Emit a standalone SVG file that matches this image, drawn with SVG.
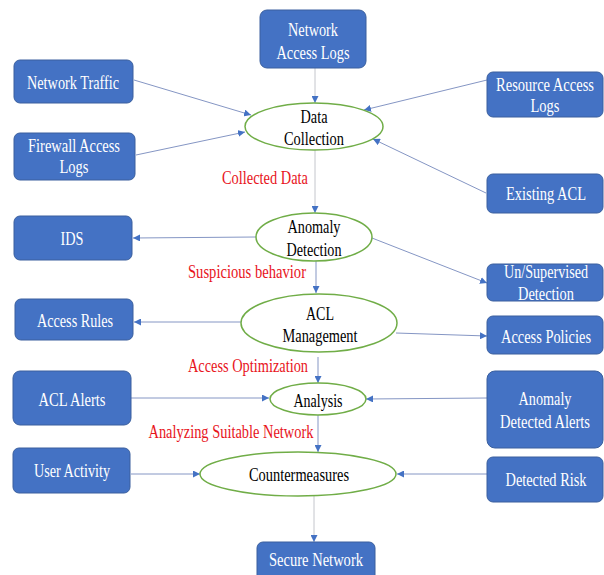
<svg xmlns="http://www.w3.org/2000/svg" width="604" height="575" viewBox="0 0 604 575">
<style>
.box{fill:#4472c4;stroke:#3a5f9e;stroke-width:1}
.ell{fill:#ffffff;stroke:#70ad47;stroke-width:1.5}
text{font-family:"Liberation Serif","Times New Roman",serif;font-size:18px;text-anchor:middle}
.w{fill:#ffffff}
.k{fill:#000000}
.r{fill:#e8141c}
.c{stroke:#8596c4;stroke-width:1;fill:none;marker-end:url(#ah)}
.g{stroke:#c4c6cc;stroke-width:1;fill:none;marker-end:url(#ah)}
</style>
<defs>
<marker id="ah" viewBox="0 0 10 10" refX="10" refY="5" markerWidth="7" markerHeight="7" markerUnits="userSpaceOnUse" orient="auto">
<path d="M0,0 L10,5 L0,10 z" fill="#4472c4"/>
</marker>
</defs>
<rect width="604" height="575" fill="#ffffff"/>
<g id="connectors">
<line class="g" x1="315" y1="68" x2="315" y2="103"/>
<line class="c" x1="134" y1="80" x2="251" y2="115"/>
<line class="c" x1="136" y1="155" x2="245" y2="132"/>
<line class="c" x1="487" y1="80" x2="364" y2="110"/>
<line class="c" x1="486" y1="193" x2="373" y2="139"/>
<line class="g" x1="315" y1="150" x2="315" y2="213"/>
<line class="c" x1="256" y1="237" x2="133" y2="238"/>
<line class="c" x1="372" y1="238" x2="487" y2="283"/>
<line class="c" x1="316" y1="261" x2="316" y2="293"/>
<line class="c" x1="241" y1="322" x2="134" y2="322"/>
<line class="c" x1="396" y1="333" x2="487" y2="336"/>
<line class="c" x1="318" y1="357" x2="318" y2="383"/>
<line class="c" x1="131" y1="398" x2="269" y2="398"/>
<line class="c" x1="487" y1="398" x2="366" y2="399"/>
<line class="c" x1="318" y1="415" x2="318" y2="452"/>
<line class="c" x1="131" y1="474" x2="200" y2="474"/>
<line class="c" x1="487" y1="474" x2="397" y2="474"/>
<line class="g" x1="314" y1="496" x2="314" y2="542"/>
</g>
<g id="network-access-logs">
<rect class="box" x="260" y="10" width="106" height="58" rx="7"/>
<text class="w" x="313" y="36" textLength="50" lengthAdjust="spacingAndGlyphs">Network</text>
<text class="w" x="313" y="59" textLength="73" lengthAdjust="spacingAndGlyphs">Access Logs</text>
</g>
<g id="network-traffic">
<rect class="box" x="14" y="60" width="119" height="43" rx="6"/>
<text class="w" x="73" y="89" textLength="92" lengthAdjust="spacingAndGlyphs">Network Traffic</text>
</g>
<g id="resource-access-logs">
<rect class="box" x="487" y="72" width="116" height="45" rx="6"/>
<text class="w" x="545" y="91" textLength="98" lengthAdjust="spacingAndGlyphs">Resource Access</text>
<text class="w" x="545" y="112" textLength="29" lengthAdjust="spacingAndGlyphs">Logs</text>
</g>
<g id="firewall-access-logs">
<rect class="box" x="14" y="133" width="121" height="47" rx="6"/>
<text class="w" x="74" y="152" textLength="92" lengthAdjust="spacingAndGlyphs">Firewall Access</text>
<text class="w" x="74" y="173" textLength="29" lengthAdjust="spacingAndGlyphs">Logs</text>
</g>
<g id="data-collection">
<ellipse class="ell" cx="314" cy="126.5" rx="69" ry="23.5"/>
<text class="k" x="314" y="123" textLength="27" lengthAdjust="spacingAndGlyphs">Data</text>
<text class="k" x="314" y="145" textLength="60" lengthAdjust="spacingAndGlyphs">Collection</text>
</g>
<g id="existing-acl">
<rect class="box" x="487" y="174" width="116" height="39" rx="6"/>
<text class="w" x="546" y="200" textLength="80" lengthAdjust="spacingAndGlyphs">Existing ACL</text>
</g>
<g id="label-collected-data">
<text class="r" x="265" y="184" textLength="86" lengthAdjust="spacingAndGlyphs">Collected Data</text>
</g>
<g id="ids">
<rect class="box" x="14" y="216" width="118" height="44" rx="6"/>
<text class="w" x="72" y="245" textLength="23" lengthAdjust="spacingAndGlyphs">IDS</text>
</g>
<g id="anomaly-detection">
<ellipse class="ell" cx="314" cy="237" rx="58" ry="24"/>
<text class="k" x="314" y="233" textLength="53" lengthAdjust="spacingAndGlyphs">Anomaly</text>
<text class="k" x="314" y="256" textLength="55" lengthAdjust="spacingAndGlyphs">Detection</text>
</g>
<g id="label-suspicious-behavior">
<text class="r" x="247" y="278" textLength="118" lengthAdjust="spacingAndGlyphs">Suspicious behavior</text>
</g>
<g id="unsupervised-detection">
<rect class="box" x="487" y="264" width="116" height="37" rx="6"/>
<text class="w" x="546" y="278" textLength="84" lengthAdjust="spacingAndGlyphs">Un/Supervised</text>
<text class="w" x="546" y="300" textLength="56" lengthAdjust="spacingAndGlyphs">Detection</text>
</g>
<g id="access-rules">
<rect class="box" x="15" y="299" width="118" height="41" rx="6"/>
<text class="w" x="75" y="327" textLength="76" lengthAdjust="spacingAndGlyphs">Access Rules</text>
</g>
<g id="acl-management">
<ellipse class="ell" cx="319" cy="323" rx="78" ry="29"/>
<text class="k" x="320" y="320" textLength="28" lengthAdjust="spacingAndGlyphs">ACL</text>
<text class="k" x="320" y="342" textLength="75" lengthAdjust="spacingAndGlyphs">Management</text>
</g>
<g id="access-policies">
<rect class="box" x="487" y="316" width="116" height="38" rx="6"/>
<text class="w" x="546" y="343" textLength="90" lengthAdjust="spacingAndGlyphs">Access Policies</text>
</g>
<g id="label-access-optimization">
<text class="r" x="248" y="372" textLength="120" lengthAdjust="spacingAndGlyphs">Access Optimization</text>
</g>
<g id="acl-alerts">
<rect class="box" x="13" y="371" width="118" height="54" rx="7"/>
<text class="w" x="72" y="406" textLength="67" lengthAdjust="spacingAndGlyphs">ACL Alerts</text>
</g>
<g id="analysis">
<ellipse class="ell" cx="318" cy="399" rx="48" ry="16"/>
<text class="k" x="318" y="407" textLength="49" lengthAdjust="spacingAndGlyphs">Analysis</text>
</g>
<g id="anomaly-detected-alerts">
<rect class="box" x="487" y="371" width="116" height="77" rx="8"/>
<text class="w" x="545" y="405" textLength="53" lengthAdjust="spacingAndGlyphs">Anomaly</text>
<text class="w" x="545" y="428" textLength="90" lengthAdjust="spacingAndGlyphs">Detected Alerts</text>
</g>
<g id="label-analyzing-suitable-network">
<text class="r" x="231" y="438" textLength="165" lengthAdjust="spacingAndGlyphs">Analyzing Suitable Network</text>
</g>
<g id="user-activity">
<rect class="box" x="13" y="448" width="117" height="45" rx="6"/>
<text class="w" x="72" y="477" textLength="76" lengthAdjust="spacingAndGlyphs">User Activity</text>
</g>
<g id="countermeasures">
<ellipse class="ell" cx="298" cy="474" rx="98" ry="22"/>
<text class="k" x="299" y="481" textLength="100" lengthAdjust="spacingAndGlyphs">Countermeasures</text>
</g>
<g id="detected-risk">
<rect class="box" x="487" y="457" width="116" height="45" rx="6"/>
<text class="w" x="546" y="486" textLength="81" lengthAdjust="spacingAndGlyphs">Detected Risk</text>
</g>
<g id="secure-network">
<rect class="box" x="257" y="542" width="118" height="40" rx="6"/>
<text class="w" x="316" y="566" textLength="94" lengthAdjust="spacingAndGlyphs">Secure Network</text>
</g>
</svg>
